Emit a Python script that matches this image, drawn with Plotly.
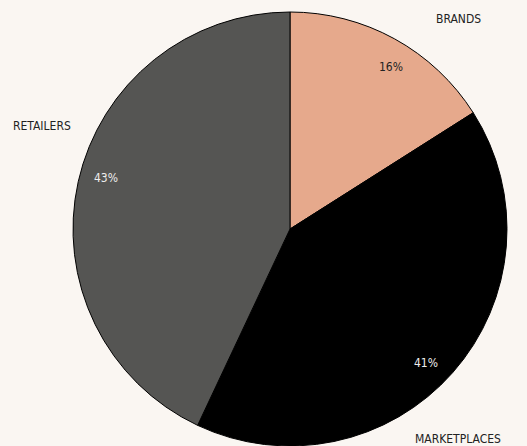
import numpy as np
import plotly.graph_objects as go

# slice data
labels = ["BRANDS", "MARKETPLACES", "RETAILERS"]
values = [16, 41, 43]
colors = ["#e6a98c", "#000000", "#555553"]
pct_colors = ["#222222", "#eeeeee", "#eeeeee"]

W, H = 527, 446
BG = "#faf6f2"
FONT = "DejaVu Sans Condensed, Liberation Sans Narrow, sans-serif"

# pie geometry (pixels)
top_margin = 12
R = (H - top_margin) / 2
cx, cy = 290, top_margin + R
dom_left = (2 * cx - W) / W

fig = go.Figure()
fig.add_trace(go.Pie(
    labels=labels,
    values=values,
    sort=False,
    direction="clockwise",
    rotation=0,
    textinfo="none",
    hoverinfo="label+percent",
    marker=dict(colors=colors, line=dict(color="#000000", width=1)),
    domain=dict(x=[dom_left, 1], y=[0, 1]),
    showlegend=False,
))

# label / percentage positions from the slice mid-angles
vals = np.array(values, dtype=float)
frac = vals / vals.sum()
mid = (np.cumsum(frac) - frac / 2) * 360


def to_paper(ang, r):
    # paper coords cover the area inside the margins
    a = np.radians(ang)
    px = cx + r * np.sin(a)
    py = cy - r * np.cos(a)
    return px / W, (H - py) / (H - top_margin)


annotations = []
for lab, f, m, pc in zip(labels, frac, mid, pct_colors):
    x, y = to_paper(m + 10, R * 1.24)
    annotations.append(dict(
        x=x, y=y, xref="paper", yref="paper", text=lab, showarrow=False,
        xanchor="center", yanchor="middle",
        font=dict(family=FONT, size=12, color="#222222"),
    ))
    x, y = to_paper(m + 3, R * 0.88)
    annotations.append(dict(
        x=x, y=y, xref="paper", yref="paper", text=f"{round(f * 100)}%",
        showarrow=False, xanchor="center", yanchor="middle",
        font=dict(family=FONT, size=12, color=pc),
    ))

fig.update_layout(
    width=W, height=H,
    margin=dict(l=0, r=0, t=top_margin, b=0),
    paper_bgcolor=BG, plot_bgcolor=BG,
    annotations=annotations,
)

fig.write_html(
    "out.html",
    config={"displayModeBar": False},
    post_script=f"document.body.style.margin='0';document.body.style.background='{BG}';",
)
